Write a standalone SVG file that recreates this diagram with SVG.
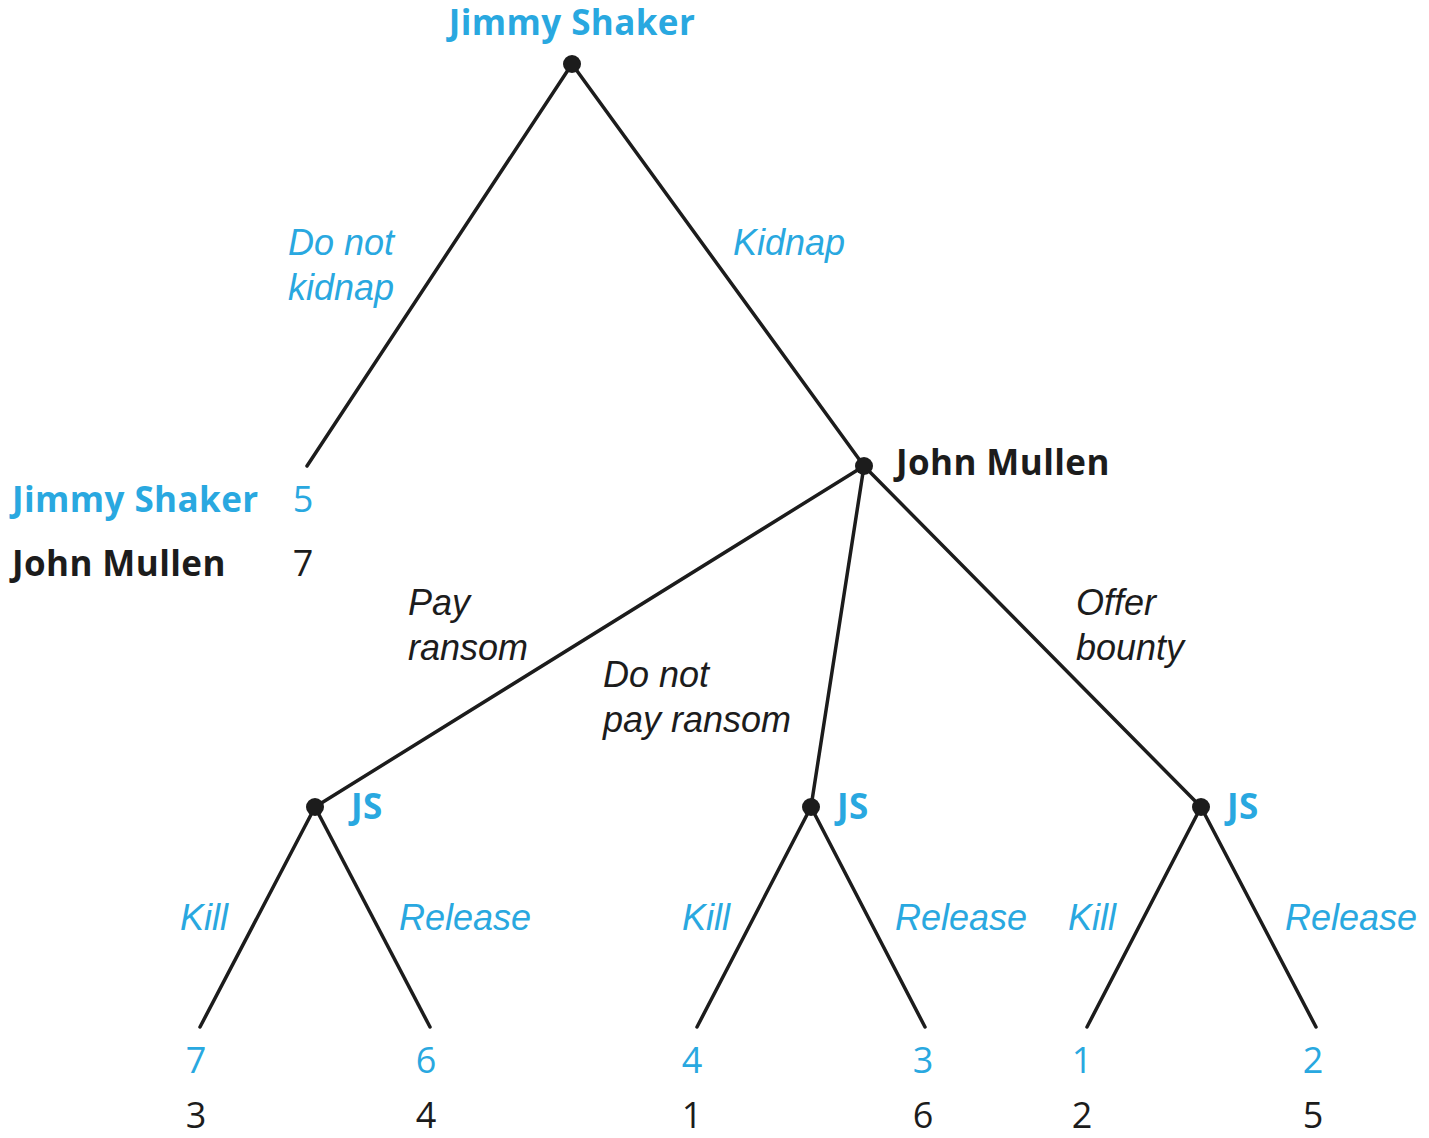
<svg xmlns="http://www.w3.org/2000/svg" width="1429" height="1138" viewBox="0 0 1429 1138">
  <style>
    .edge { stroke: #1c1c1c; stroke-width: 3.5; fill: none; stroke-linecap: round; }
    .dot { fill: #1c1c1c; }
    .player { font-family: "Open Sans", "Liberation Sans", sans-serif; font-weight: 700; font-size: 35px; letter-spacing: 0.4px; }
    .move { font-family: "Liberation Sans", "Open Sans", sans-serif; font-style: italic; font-size: 36px; }
    .num { font-family: "Open Sans", "Liberation Sans", sans-serif; font-size: 36px; text-anchor: middle; }
    .blue { fill: #29a8e0; }
    .dark { fill: #1c1c1c; }
  </style>
  <rect width="1429" height="1138" fill="#ffffff"/>

  <!-- branches -->
  <g id="connectors">
    <line class="edge" x1="572" y1="64" x2="307" y2="466"/>
    <line class="edge" x1="572" y1="64" x2="864" y2="466"/>
    <line class="edge" x1="864" y1="466" x2="315" y2="807"/>
    <line class="edge" x1="864" y1="466" x2="811" y2="807"/>
    <line class="edge" x1="864" y1="466" x2="1201" y2="807"/>
    <line class="edge" x1="315" y1="807" x2="200" y2="1027"/>
    <line class="edge" x1="315" y1="807" x2="430" y2="1027"/>
    <line class="edge" x1="811" y1="807" x2="697" y2="1027"/>
    <line class="edge" x1="811" y1="807" x2="925" y2="1027"/>
    <line class="edge" x1="1201" y1="807" x2="1087" y2="1027"/>
    <line class="edge" x1="1201" y1="807" x2="1316" y2="1027"/>
  </g>

  <!-- move labels -->
  <g id="move-labels">
    <text class="move blue" x="288" y="255">Do not</text>
    <text class="move blue" x="288" y="300">kidnap</text>
    <text class="move blue" x="733" y="255">Kidnap</text>
    <text class="move dark" x="408" y="615">Pay</text>
    <text class="move dark" x="408" y="660">ransom</text>
    <text class="move dark" x="603" y="687">Do not</text>
    <text class="move dark" x="603" y="732">pay ransom</text>
    <text class="move dark" x="1076" y="615">Offer</text>
    <text class="move dark" x="1076" y="660">bounty</text>
    <text class="move blue" x="180" y="930">Kill</text>
    <text class="move blue" x="399" y="930">Release</text>
    <text class="move blue" x="682" y="930">Kill</text>
    <text class="move blue" x="895" y="930">Release</text>
    <text class="move blue" x="1068" y="930">Kill</text>
    <text class="move blue" x="1285" y="930">Release</text>
  </g>

  <!-- decision nodes -->
  <g id="node-root">
    <circle class="dot" cx="572" cy="64" r="9"/>
    <text class="player blue" x="572" y="35" text-anchor="middle">Jimmy Shaker</text>
  </g>
  <g id="node-jm">
    <circle class="dot" cx="864" cy="466" r="9"/>
    <text class="player dark" x="896" y="475">John Mullen</text>
  </g>
  <g id="node-js-pay">
    <circle class="dot" cx="315" cy="807" r="9"/>
    <text class="player blue" x="351" y="819">JS</text>
  </g>
  <g id="node-js-nopay">
    <circle class="dot" cx="811" cy="807" r="9"/>
    <text class="player blue" x="837" y="819">JS</text>
  </g>
  <g id="node-js-bounty">
    <circle class="dot" cx="1201" cy="807" r="9"/>
    <text class="player blue" x="1227" y="819">JS</text>
  </g>

  <!-- payoffs -->
  <g id="payoff-nokidnap">
    <text class="player blue" x="12" y="512">Jimmy Shaker</text>
    <text class="num blue" x="303" y="512">5</text>
    <text class="player dark" x="12" y="576">John Mullen</text>
    <text class="num dark" x="303" y="576">7</text>
  </g>
  <g id="payoff-pay-kill">
    <text class="num blue" x="196" y="1073">7</text>
    <text class="num dark" x="196" y="1128">3</text>
  </g>
  <g id="payoff-pay-release">
    <text class="num blue" x="426" y="1073">6</text>
    <text class="num dark" x="426" y="1128">4</text>
  </g>
  <g id="payoff-nopay-kill">
    <text class="num blue" x="692" y="1073">4</text>
    <text class="num dark" x="692" y="1128">1</text>
  </g>
  <g id="payoff-nopay-release">
    <text class="num blue" x="923" y="1073">3</text>
    <text class="num dark" x="923" y="1128">6</text>
  </g>
  <g id="payoff-bounty-kill">
    <text class="num blue" x="1082" y="1073">1</text>
    <text class="num dark" x="1082" y="1128">2</text>
  </g>
  <g id="payoff-bounty-release">
    <text class="num blue" x="1313" y="1073">2</text>
    <text class="num dark" x="1313" y="1128">5</text>
  </g>
</svg>
